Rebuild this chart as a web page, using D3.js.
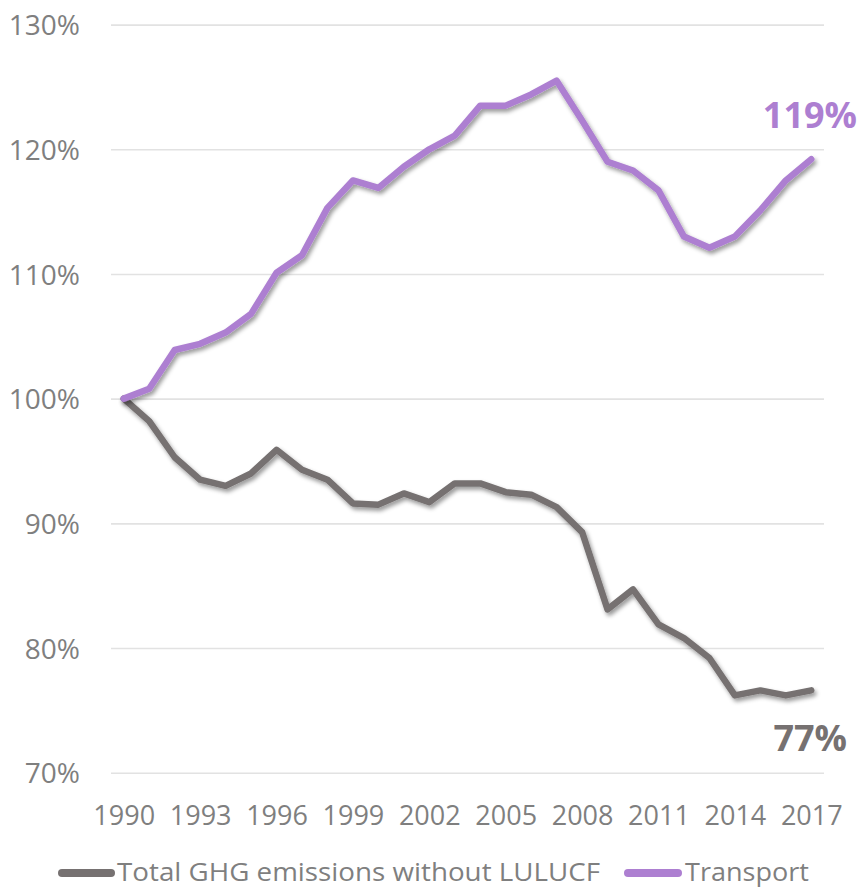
<!DOCTYPE html>
<html>
<head>
<meta charset="utf-8">
<script src="https://cdn.jsdelivr.net/npm/d3@7"></script>
<style>
  body { margin: 0; background: #fff; }
  text { font-family: "Open Sans", sans-serif; }
</style>
</head>
<body>
<svg width="862" height="891"></svg>
<script>
var years = d3.range(1990, 2018);
var yearTicks = [1990, 1993, 1996, 1999, 2002, 2005, 2008, 2011, 2014, 2017];
var yTicks = [70, 80, 90, 100, 110, 120, 130];

var totalGhg = [100, 98.2, 95.3, 93.5, 93.0, 94.0, 95.9, 94.3, 93.5, 91.6,
                91.5, 92.4, 91.7, 93.2, 93.2, 92.5, 92.3, 91.3, 89.3, 83.1,
                84.7, 81.9, 80.8, 79.2, 76.2, 76.6, 76.2, 76.6];
var transport = [100, 100.8, 103.9, 104.4, 105.3, 106.8, 110.1, 111.5, 115.3, 117.5,
                 116.9, 118.6, 120.0, 121.1, 123.5, 123.5, 124.4, 125.5, 122.3, 119.0,
                 118.3, 116.7, 113.0, 112.1, 113.0, 115.1, 117.5, 119.2];

var seriesNames = ["Total GHG emissions without LULUCF", "Transport"];
var endLabels = ["77%", "119%"];

var svg = d3.select("svg"),
    plotLeft = 111, plotRight = 824, plotTop = 24.6, plotBottom = 772.7;

var gray = "#767171", purple = "#ad7fd1", textGray = "#7f7f7f";

var x = d3.scalePoint().domain(years).range([plotLeft, plotRight]).padding(0.5);
var y = d3.scaleLinear().domain([70, 130]).range([plotBottom, plotTop]);

var defs = svg.append("defs");
var f = defs.append("filter").attr("id", "shadow")
    .attr("x", "-10%").attr("y", "-10%").attr("width", "120%").attr("height", "120%");
f.append("feDropShadow")
    .attr("dx", 2).attr("dy", 3).attr("stdDeviation", 2.2)
    .attr("flood-color", "#000").attr("flood-opacity", 0.4);

// gridlines + y labels
var yAxis = d3.axisLeft(y)
    .tickValues(yTicks)
    .tickSize(-(plotRight - plotLeft))
    .tickPadding(31)
    .tickFormat(function(d) { return d + "%"; });

svg.append("g")
    .attr("transform", "translate(" + plotLeft + ",0)")
    .call(yAxis)
    .call(function(g) {
        g.select(".domain").remove();
        g.selectAll(".tick line").attr("stroke", "#e2e2e2").attr("stroke-width", 1.6);
        g.selectAll(".tick text")
            .attr("fill", textGray)
            .attr("font-size", 28)
            .attr("font-family", "Open Sans")
            .attr("dy", "0.36em");
    });

// x labels
var xAxis = d3.axisBottom(x).tickValues(yearTicks).tickSize(0).tickPadding(0);
svg.append("g")
    .attr("transform", "translate(0,825)")
    .call(xAxis)
    .call(function(g) {
        g.select(".domain").remove();
        g.selectAll(".tick text")
            .attr("fill", textGray)
            .attr("font-size", 27)
            .attr("font-family", "Open Sans")
            .attr("dy", 0)
            .attr("y", 0);
    });

var line = d3.line()
    .x(function(d, i) { return x(years[i]); })
    .y(function(d) { return y(d); });

var data = [totalGhg, transport];
var colors = [gray, purple];

svg.selectAll(".series")
    .data(data)
    .enter().append("path")
    .attr("class", "series")
    .attr("d", line)
    .attr("fill", "none")
    .attr("stroke", function(d, i) { return colors[i]; })
    .attr("stroke-width", 6.5)
    .attr("stroke-linejoin", "round")
    .attr("stroke-linecap", "round")
    .attr("filter", "url(#shadow)");

// end labels
svg.append("text")
    .attr("x", 847).attr("y", 751)
    .attr("text-anchor", "end")
    .attr("font-size", 36).attr("font-weight", "bold")
    .attr("fill", gray)
    .text(endLabels[0]);

svg.append("text")
    .attr("x", 857).attr("y", 128)
    .attr("text-anchor", "end")
    .attr("font-size", 36).attr("font-weight", "bold")
    .attr("fill", purple)
    .text(endLabels[1]);

// legend
var legendItems = [
    {x1: 58, x2: 115, tx: 117, tl: 483},
    {x1: 624, x2: 682, tx: 685, tl: 124}
];
var legend = svg.append("g");
legendItems.forEach(function(it, i) {
    legend.append("line")
        .attr("x1", it.x1 + 4).attr("x2", it.x2 - 4)
        .attr("y1", 873).attr("y2", 873)
        .attr("stroke", colors[i])
        .attr("stroke-width", 8)
        .attr("stroke-linecap", "round");
    legend.append("text")
        .attr("x", it.tx).attr("y", 881)
        .attr("font-size", 26)
        .attr("fill", textGray)
        .attr("textLength", it.tl)
        .attr("lengthAdjust", "spacingAndGlyphs")
        .text(seriesNames[i]);
});
</script>
</body>
</html>
